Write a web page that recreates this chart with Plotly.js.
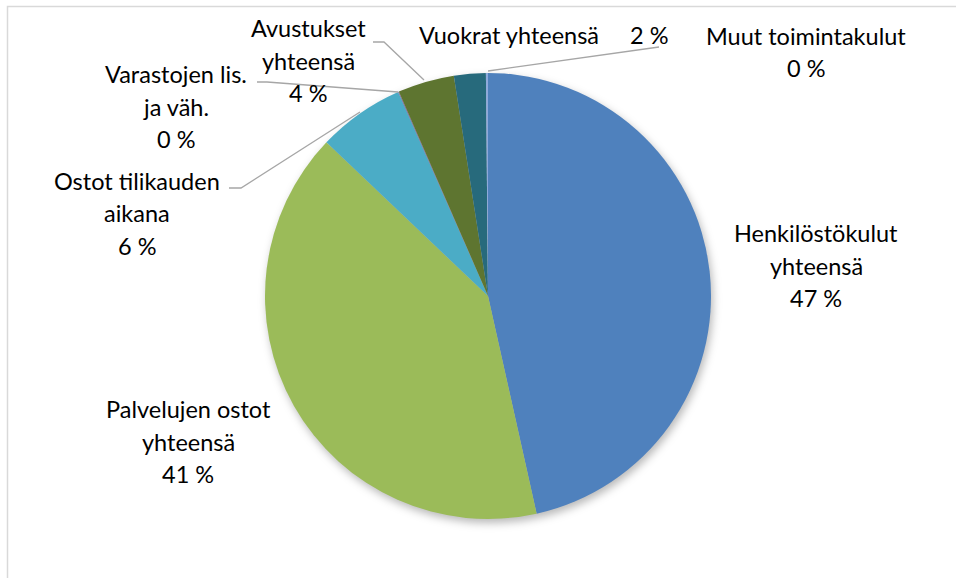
<!DOCTYPE html>
<html>
<head>
<meta charset="utf-8">
<script src="https://cdn.plot.ly/plotly-3.0.1.min.js"></script>
<style>
html,body{margin:0;padding:0;background:#fff;}
#chart{width:956px;height:578px;}
</style>
</head>
<body>
<div id="chart"></div>
<script>
// ---- data ----
const categories = [
  "Henkilöstökulut<br>yhteensä",
  "Palvelujen ostot<br>yhteensä",
  "Ostot tilikauden<br>aikana",
  "Varastojen lis.<br>ja väh.",
  "Avustukset<br>yhteensä",
  "Vuokrat yhteensä",
  "Muut toimintakulut"
];
const values = [46.5, 40.6, 6.3, 0.05, 4.1, 2.3, 0.15];
const colors = ["#4F81BD", "#9BBB59", "#4BACC6", "#8064A2", "#5E7530", "#276A7C", "#8EAADB"];

// ---- layout helpers (pixel -> paper) ----
const W = 956, H = 578;
const px = x => x / W;
const py = y => 1 - y / H;

// label anchor: [centerX, firstLineCenterY, inline(pct on same row)]
const labelPos = [
  [816, 233, false],
  [188, 409, false],
  [137, 181, false],
  [176, 74, false],
  [308, 28, false],
  [509, 35, true],
  [806, 36, false]
];
const lineGap = 32.5;
const font = {family: "Lato, 'Open Sans', sans-serif", size: 23.5, color: "#000"};

const total = values.reduce((a, b) => a + b, 0);
const annotations = [];
categories.forEach((c, i) => {
  const pct = Math.round(values[i] / total * 100) + " %";
  const [x, y, inline] = labelPos[i];
  const lines = c.split("<br>");
  if (inline) {
    annotations.push({x: px(x), y: py(y), xref: "paper", yref: "paper", text: lines[0], showarrow: false, font: font, xanchor: "center", yanchor: "middle"});
    annotations.push({x: px(649), y: py(y), xref: "paper", yref: "paper", text: pct, showarrow: false, font: font, xanchor: "center", yanchor: "middle"});
    return;
  }
  lines.concat([pct]).forEach((t, k) => {
    annotations.push({x: px(x), y: py(y + k * lineGap), xref: "paper", yref: "paper", text: t, showarrow: false, font: font, xanchor: "center", yanchor: "middle"});
  });
});

// leader lines (pixel paths)
const leaders = [
  [[373, 42], [384, 42], [424, 80]],
  [[257, 82], [267, 82], [398, 92]],
  [[229, 188], [241, 188], [360, 112]],
  [[488, 71], [659, 47]]
];
const shapes = leaders.map(pts => ({
  type: "path", xref: "paper", yref: "paper",
  path: pts.map((p, k) => (k ? "L" : "M") + px(p[0]).toFixed(5) + "," + py(p[1]).toFixed(5)).join(" "),
  line: {color: "#A6A6A6", width: 1.3}
}));
// chart frame
shapes.push({type: "rect", xref: "paper", yref: "paper", x0: px(7.5), x1: 1.05, y0: -0.05, y1: py(6.5),
  line: {color: "#D9D9D9", width: 1.5}, fillcolor: "rgba(0,0,0,0)"});

const cx = 488, cy = 296, r = 223;
const trace = {
  type: "pie",
  labels: categories,
  values: values,
  sort: false,
  direction: "clockwise",
  rotation: 0,
  textinfo: "none",
  hoverinfo: "label+percent",
  marker: {colors: colors, line: {width: 0}},
  domain: {x: [px(cx - r), px(cx + r)], y: [py(cy + r), py(cy - r)]},
  showlegend: false
};

const layout = {
  width: W, height: H,
  margin: {l: 0, r: 0, t: 0, b: 0},
  paper_bgcolor: "#fff",
  showlegend: false,
  annotations: annotations,
  shapes: shapes,
  font: font
};

Plotly.newPlot("chart", [trace], layout, {displayModeBar: false, staticPlot: true}).then(() => {
  const pl = document.querySelector(".pielayer");
  if (pl) pl.style.filter = "drop-shadow(2px 4px 4px rgba(0,0,0,0.28))";
});
</script>
</body>
</html>
